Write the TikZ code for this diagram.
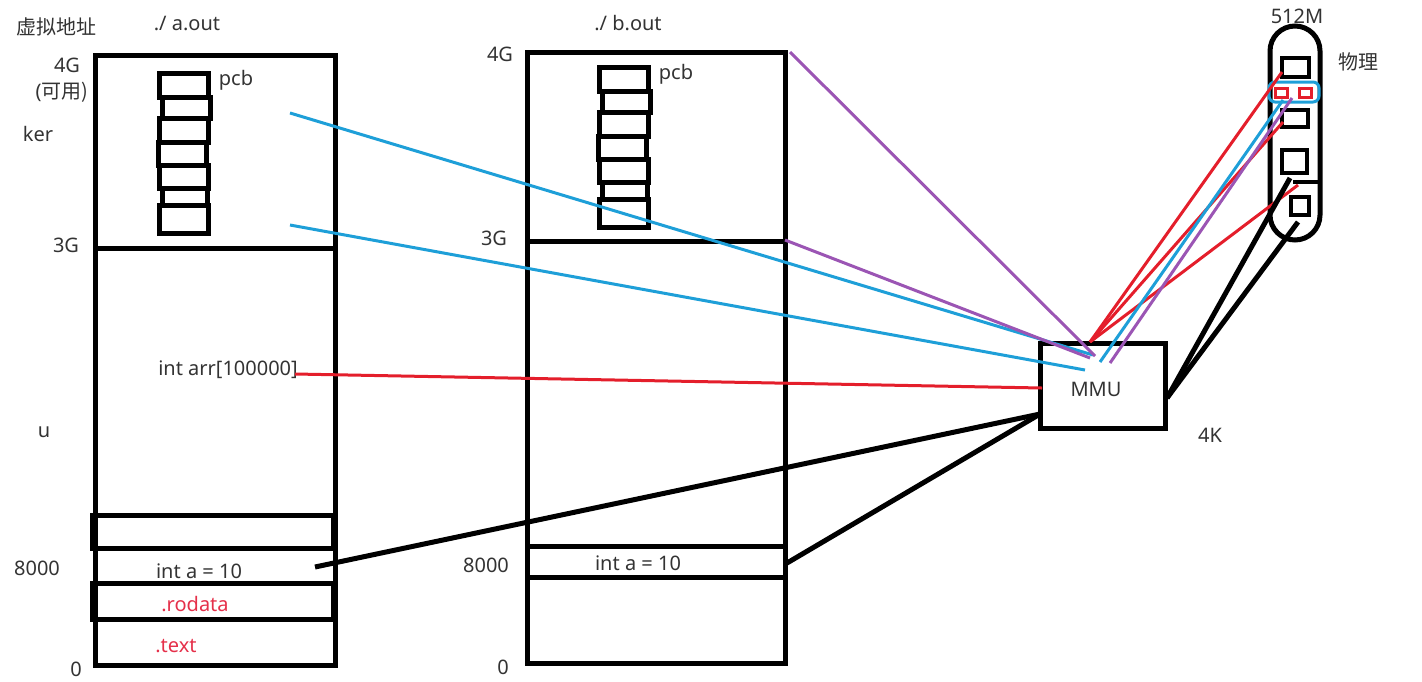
\documentclass[tikz,border=0pt]{standalone}
\usepackage{fontspec}
\setmainfont{Noto Sans}
\newfontfamily\cjk{Noto Sans CJK SC}
\usepackage{color}
\definecolor{lineblue}{HTML}{1E9FD8}
\definecolor{linered}{HTML}{E41E2B}
\definecolor{linepurple}{HTML}{9B55B4}
\definecolor{textred}{HTML}{E5304A}
\definecolor{textgray}{HTML}{333333}
\usepackage{tikz}
\usetikzlibrary{calc}
\usetikzlibrary{positioning}

\begin{document}
\begin{tikzpicture}[x=0.5pt,y=-0.5pt,
	mem/.style={draw,line width=2.5pt,rectangle,inner sep=0pt},
	cell/.style={draw,line width=2.5pt},
	lbl/.style={text=textgray,inner sep=0pt,font=\fontsize{10}{12}\selectfont},
	redlbl/.style={lbl,text=textred},
	bline/.style={lineblue,line width=1.5pt},
	rline/.style={linered,line width=1.5pt},
	pline/.style={linepurple,line width=1.5pt},
	kline/.style={black,line width=2.5pt}]
				\useasboundingbox (0,0) rectangle (1422,681);
				% virtual memory of a.out
				\node[mem,minimum width=120pt,minimum height=305pt] (AOUT) at (215,360) {};
				\draw[cell] (95,248) -- (335,248);
				\draw[cell] (92,515) rectangle (333,548);
				\draw[cell] (92,583) rectangle (333,619);
				% virtual memory of b.out
				\node[mem,minimum width=129pt,minimum height=305.5pt] (BOUT) at (656,357.5) {};
				\draw[cell] (527,241) -- (785,241);
				\draw[cell] (527,546) rectangle (785,577);
				% pcb stacks
				\foreach \dx/\dy in {0/0,440/-6}{
					\foreach \xa/\xb/\ya/\yb in {159.5/208.5/73/97,162/210/97/118,159.5/208.5/118/142,158/206/142/165,159.5/208.5/165/188,162/207/188/205,159.5/208.5/205/233}
						\draw[cell] (\xa+\dx,\ya+\dy) rectangle (\xb+\dx,\yb+\dy);
				}
				\node[lbl] (PCB_A) at (236,80) {pcb};
				\node[lbl] (PCB_B) at (676,74) {pcb};
				% labels of a.out
				\node[lbl] (VADDR) at (57,27) {\cjk 虚拟地址};
				\node[lbl] (A_NAME) at (187,23) {./ a.out};
				\node[lbl] (A_4G) at (67,65) {4G};
				\node[lbl] (A_AVAIL) at (62,92) {(\cjk 可用)};
				\node[lbl] (A_KER) at (38,134) {ker};
				\node[lbl] (A_3G) at (66,245) {3G};
				\node[lbl] (A_USER) at (44,432) {u};
				\node[lbl] (A_8000) at (37,568) {8000};
				\node[lbl] (A_0) at (76,669) {0};
				\node[lbl] (A_ARR) at (228,370) {int arr[100000]};
				\node[lbl] (A_INT) at (199,571) {int a = 10};
				\node[redlbl] (A_RODATA) at (195,604) {.rodata};
				\node[redlbl] (A_TEXT) at (176,646) {.text};
				% labels of b.out
				\node[lbl] (B_NAME) at (628,23) {./ b.out};
				\node[lbl] (B_4G) at (500,54) {4G};
				\node[lbl] (B_3G) at (494,238) {3G};
				\node[lbl] (B_8000) at (486,565) {8000};
				\node[lbl] (B_INT) at (638,563) {int a = 10};
				\node[lbl] (B_0) at (503,667) {0};
				% MMU
				\node[mem,minimum width=62.5pt,minimum height=42.5pt] (MMU) at (1102.5,385.5) {};
				\node[lbl] (MMU_TXT) at (1096,389) {MMU};
				\node[lbl] (PAGE) at (1210,435) {4K};
				% physical memory
				\node[mem,rounded corners=12.5pt,minimum width=25pt,minimum height=107pt] (PHYS) at (1295,133) {};
				\node[lbl] (PHYS_SIZE) at (1297,16) {512M};
				\node[lbl] (PHYS_TXT) at (1358,62) {\cjk 物理};
				\draw[line width=2pt] (1282,58) rectangle (1309,77);
				\draw[line width=2pt] (1282,110) rectangle (1308,127);
				\draw[line width=2pt] (1282,150) rectangle (1307,173);
				\draw[line width=2pt] (1293,182) -- (1320,182);
				\draw[line width=2pt] (1291,197) rectangle (1309,215);
				\draw[lineblue,line width=1.5pt,rounded corners=3pt] (1269,82) rectangle (1319,102);
				\draw[linered,line width=1.5pt] (1275,88) rectangle (1287,97);
				\draw[linered,line width=1.5pt] (1299,88) rectangle (1311,97);
				% end points
				\coordinate (A_K1) at (290,113);
				\coordinate (A_K2) at (290,225);
				\coordinate (A_R) at (295,374);
				\coordinate (A_I) at (315,567);
				\coordinate (B_T) at (790,52);
				\coordinate (B_M) at (785,240);
				\coordinate (B_I) at (787,563);
				\coordinate (M_B1) at (1093,355);
				\coordinate (M_B2) at (1085,370);
				\coordinate (M_P1) at (1095,356);
				\coordinate (M_P2) at (1090,358);
				\coordinate (M_R) at (1090,342);
				\coordinate (M_L) at (1042,388);
				\coordinate (M_K) at (1040,414);
				\coordinate (M_E) at (1167,398);
				\coordinate (M_BU) at (1100,362);
				\coordinate (M_PU) at (1110,363);
				\coordinate (P_1) at (1282,72);
				\coordinate (P_2) at (1283,122);
				\coordinate (P_3) at (1298,185);
				\coordinate (P_B) at (1283,100);
				\coordinate (P_P) at (1292,98);
				\coordinate (P_K1) at (1290,178);
				\coordinate (P_K2) at (1298,222);
				% page table lines
				\draw[bline] (A_K1) -- (M_B1);
				\draw[bline] (A_K2) -- (M_B2);
				\draw[pline] (B_T) -- (M_P1);
				\draw[pline] (B_M) -- (M_P2);
				\draw[rline] (A_R) -- (M_L);
				\draw[kline] (A_I) -- (M_K);
				\draw[kline] (B_I) -- (M_K);
				\draw[rline] (M_R) -- (P_1);
				\draw[rline] (M_R) -- (P_2);
				\draw[rline] (M_R) -- (P_3);
				\draw[bline] (M_BU) -- (P_B);
				\draw[pline] (M_PU) -- (P_P);
				\draw[kline] (M_E) -- (P_K1);
				\draw[kline] (M_E) -- (P_K2);
			\end{tikzpicture}
\end{document}
